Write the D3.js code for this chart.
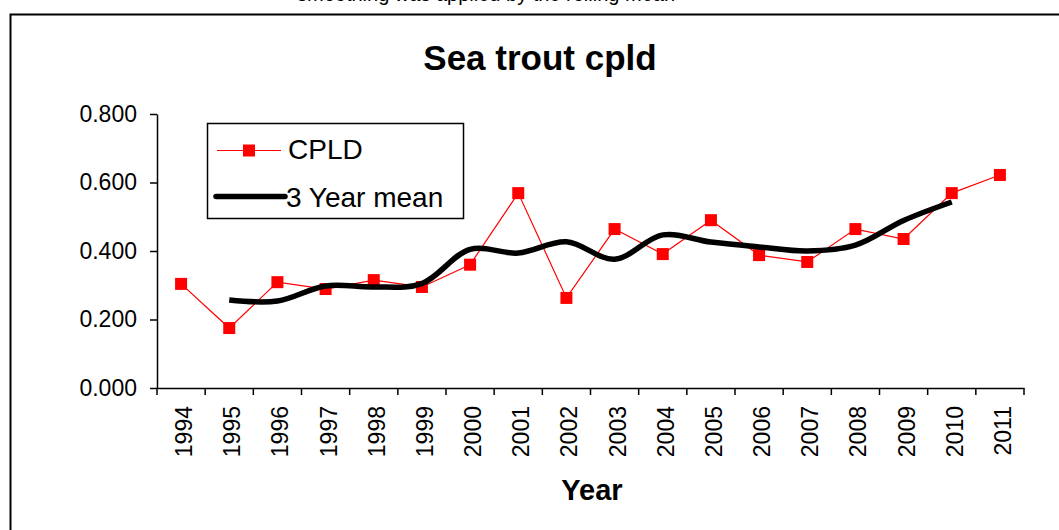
<!DOCTYPE html>
<head>
<meta charset="utf-8">
<script src="https://cdn.jsdelivr.net/npm/d3@7"></script>
<style>
body { margin: 0; background: #fff; }
svg { display: block; font-family: "Liberation Sans", Arial, sans-serif; }
</style>
</head>
<body>
<script>

// values
var years = ["1994", "1995", "1996", "1997", "1998", "1999", "2000", "2001", "2002",
             "2003", "2004", "2005", "2006", "2007", "2008", "2009", "2010", "2011"];
var cpld = [0.304, 0.175, 0.309, 0.289, 0.315, 0.295, 0.360, 0.569, 0.263,
            0.464, 0.391, 0.490, 0.388, 0.368, 0.464, 0.435, 0.569, 0.622];
// 3 year mean runs 1995..2010
var meanYears = years.slice(1, 17);
var mean3 = [0.257, 0.254, 0.298, 0.295, 0.305, 0.405, 0.394, 0.427,
             0.376, 0.447, 0.426, 0.412, 0.400, 0.417, 0.489, 0.543];
var yTicks = [0, 0.2, 0.4, 0.6, 0.8];

var width = 1059, height = 530;
var svg = d3.select("body").append("svg")
    .attr("width", width)
    .attr("height", height);

// cut off caption line from the page above
svg.append("text")
    .attr("x", 297)
    .attr("y", 1)
    .style("font-size", "20px")
    .text("smoothing was applied by the rolling mean");

// chart frame (runs off the right and bottom)
svg.append("rect")
    .attr("x", 10.5)
    .attr("y", 14.5)
    .attr("width", 1100)
    .attr("height", 600)
    .attr("fill", "none")
    .attr("stroke", "#000")
    .attr("stroke-width", 2);

var x = d3.scaleBand()
    .domain(years)
    .range([157, 1024]);

var y = d3.scaleLinear()
    .domain([0, 0.8])
    .range([388, 114]);

// y axis
var yAxis = svg.append("g")
    .attr("transform", "translate(157,0)")
    .call(d3.axisLeft(y).tickValues(yTicks).tickFormat(d3.format(".3f")).tickSize(7).tickSizeOuter(0).tickPadding(13));
yAxis.select(".domain").attr("stroke-width", 1.5);
yAxis.selectAll(".tick line").attr("stroke-width", 1.5);
yAxis.selectAll("text")
    .style("font-size", "23px")
    .style("font-family", "Liberation Sans, Arial, sans-serif")
    .attr("fill", "#000");

// x axis, ticks between categories
var xAxis = svg.append("g")
    .attr("transform", "translate(0,388)")
    .call(d3.axisBottom(x).tickSize(0).tickSizeOuter(0));
xAxis.select(".domain").attr("stroke-width", 1.5);
xAxis.selectAll("text")
    .style("font-size", "23px")
    .style("font-family", "Liberation Sans, Arial, sans-serif")
    .attr("fill", "#000")
    .attr("text-anchor", "end")
    .attr("dy", null)
    .attr("transform", "translate(8,18) rotate(-90)");

var edges = years.map(d => x(d)).concat([x.range()[1]]);
xAxis.selectAll(".sep")
    .data(edges)
    .enter().append("line")
    .attr("class", "sep")
    .attr("x1", d => d)
    .attr("x2", d => d)
    .attr("y1", 0)
    .attr("y2", 7)
    .attr("stroke", "#000")
    .attr("stroke-width", 1.5);

var cx = d => x(d) + x.bandwidth() / 2;

// CPLD series
var red = "#ff0000";
svg.append("path")
    .datum(cpld)
    .attr("fill", "none")
    .attr("stroke", red)
    .attr("stroke-width", 1.2)
    .attr("d", d3.line().x((d, i) => cx(years[i])).y(d => y(d)));

var ms = 12;
svg.selectAll(".marker")
    .data(cpld)
    .enter().append("rect")
    .attr("class", "marker")
    .attr("x", (d, i) => cx(years[i]) - ms / 2)
    .attr("y", d => y(d) - ms / 2)
    .attr("width", ms)
    .attr("height", ms)
    .attr("fill", red);

// 3 year mean, smoothed
svg.append("path")
    .datum(mean3)
    .attr("fill", "none")
    .attr("stroke", "#000")
    .attr("stroke-width", 5.5)
    .attr("stroke-linejoin", "round")
    .attr("d", d3.line().curve(d3.curveCatmullRom.alpha(0.5)).x((d, i) => cx(meanYears[i])).y(d => y(d)));

// titles
svg.append("text")
    .attr("x", 540)
    .attr("y", 70)
    .attr("text-anchor", "middle")
    .style("font-size", "35px")
    .style("font-weight", "bold")
    .text("Sea trout cpld");

svg.append("text")
    .attr("x", 592)
    .attr("y", 500)
    .attr("text-anchor", "middle")
    .style("font-size", "29px")
    .style("font-weight", "bold")
    .text("Year");

// legend
var legend = svg.append("g");
legend.append("rect")
    .attr("x", 207.5)
    .attr("y", 123.5)
    .attr("width", 256)
    .attr("height", 95)
    .attr("fill", "#fff")
    .attr("stroke", "#000")
    .attr("stroke-width", 1.5);
legend.append("line")
    .attr("x1", 217).attr("x2", 281)
    .attr("y1", 150.5).attr("y2", 150.5)
    .attr("stroke", red)
    .attr("stroke-width", 1.2);
legend.append("rect")
    .attr("x", 249 - ms / 2)
    .attr("y", 150.5 - ms / 2)
    .attr("width", ms)
    .attr("height", ms)
    .attr("fill", red);
legend.append("line")
    .attr("x1", 216).attr("x2", 285)
    .attr("y1", 196.5).attr("y2", 196.5)
    .attr("stroke", "#000")
    .attr("stroke-width", 5.5)
    .attr("stroke-linecap", "round");
legend.append("text")
    .attr("x", 288)
    .attr("y", 159)
    .style("font-size", "28px")
    .text("CPLD");
legend.append("text")
    .attr("x", 286)
    .attr("y", 207)
    .style("font-size", "28px")
    .text("3 Year mean");

</script>
</body>
</html>
